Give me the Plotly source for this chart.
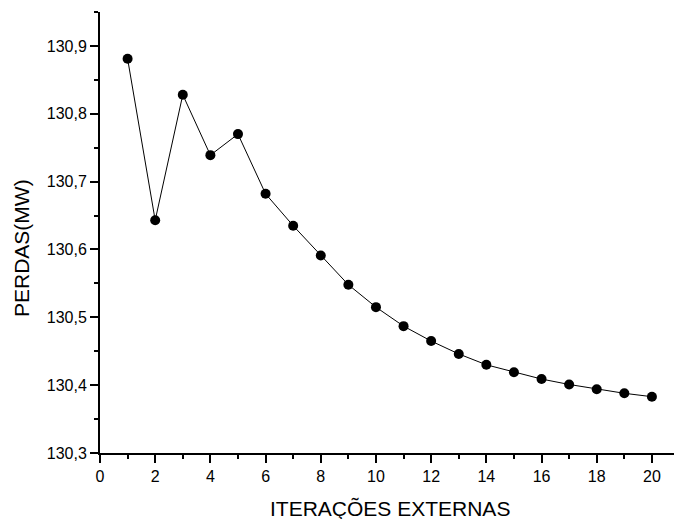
import plotly.graph_objects as go

iteracoes = list(range(1, 21))
perdas = [130.881, 130.643, 130.828, 130.739, 130.770, 130.682, 130.635, 130.591,
          130.548, 130.515, 130.487, 130.465, 130.446, 130.430, 130.419, 130.409,
          130.401, 130.394, 130.388, 130.383]

x_ticks = list(range(0, 21, 2))
y_ticks = [130.3, 130.4, 130.5, 130.6, 130.7, 130.8, 130.9]

fig = go.Figure()
fig.add_trace(go.Scatter(
    x=iteracoes, y=perdas, mode="lines+markers",
    line=dict(color="black", width=1),
    marker=dict(color="black", size=10),
    showlegend=False, cliponaxis=False,
))

font = "Liberation Sans, Arial, sans-serif"
L, R, T, B, W, H = 100, 0, 12, 66, 674, 519
pw, ph = W - L - R, H - T - B

fig.update_layout(
    width=W, height=H,
    margin=dict(l=L, r=R, t=T, b=B, autoexpand=False),
    paper_bgcolor="white", plot_bgcolor="white",
    separators=",.",
    font=dict(family=font, size=16, color="black"),
    xaxis=dict(
        range=[0, 20.8], tickvals=x_ticks, showgrid=False, zeroline=False,
        automargin=False,
        showline=True, linecolor="black", linewidth=2,
        ticks="outside", ticklen=8, tickwidth=2, tickcolor="black",
        minor=dict(ticks="outside", ticklen=4, tickwidth=2, tickcolor="black", dtick=1, showgrid=False),
        tickfont=dict(size=16),
    ),
    yaxis=dict(
        range=[130.3, 130.95], tickvals=y_ticks, tickformat=".1f",
        showgrid=False, zeroline=False, automargin=False,
        showline=True, linecolor="black", linewidth=2,
        ticks="outside", ticklen=8, tickwidth=2, tickcolor="black",
        minor=dict(ticks="outside", ticklen=4, tickwidth=2, tickcolor="black", dtick=0.05, showgrid=False),
        tickfont=dict(size=16),
    ),
    annotations=[
        dict(text="ITERAÇÕES EXTERNAS", xref="paper", yref="paper",
             x=(390 - L) / pw, y=(H - B - 508) / ph, xanchor="center", yanchor="middle",
             showarrow=False, font=dict(size=21)),
        dict(text="PERDAS(MW)", xref="paper", yref="paper", textangle=-90,
             x=(21 - L) / pw, y=(H - B - 248) / ph, xanchor="center", yanchor="middle",
             showarrow=False, font=dict(size=21)),
    ],
)

fig.write_html("out.html", config={"displayModeBar": False},
               post_script="document.body.style.margin='0';document.body.style.overflow='hidden';")
